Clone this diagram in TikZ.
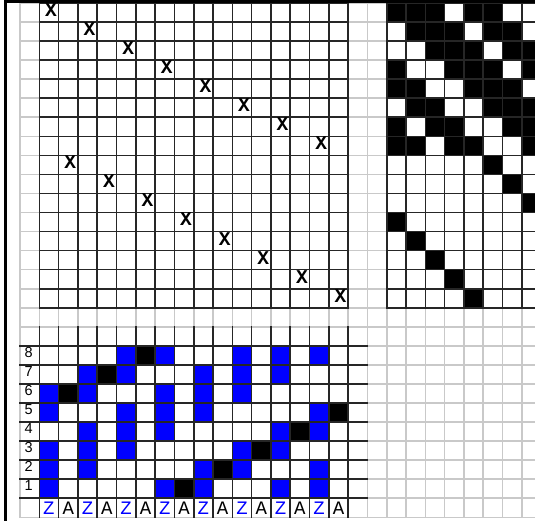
\documentclass[tikz,border=0pt]{standalone}
\usepackage{fontspec}
\newfontfamily\draftmono{Liberation Mono}
\newfontfamily\draftsans{Liberation Sans}
\definecolor{draftblue}{RGB}{0,0,255}
\begin{document}
\begin{tikzpicture}[
  threadmark/.style={inner sep=0pt, font=\draftmono\bfseries\fontsize{19.5}{19.5}\selectfont, xshift=2pt, yshift=2.5pt},
  rowno/.style={inner sep=0pt, anchor=west, font=\draftsans\fontsize{14.5}{14.5}\selectfont, xshift=4.5pt, yshift=2.8pt},
  pickletter/.style={inner sep=0pt, font=\draftmono\fontsize{19}{19}\selectfont},
  pickz/.style={pickletter, text=draftblue}
]
% TikZ weaving draft
\def\cellw{19.3pt}
\def\cellh{19.05pt}
\providecommand{\draftLightLineColor}{black!21}
\providecommand{\draftLineColor}{black!85}
\providecommand{\draftLineWidth}{1.6pt}
\providecommand{\draftFrameWidth}{2.7pt}
\useasboundingbox (0,0) rectangle (535pt,521pt);
\clip (0,0) rectangle (535pt,521pt);
\begin{scope}[shift={(20pt,3.65pt)}, x=\cellw, y=\cellh, line cap=rect]
  % Background grid
  % Vertical lines
  \begin{scope}[draw=\draftLightLineColor, line width=\draftLineWidth]
    \draw (0,0) -- (0,27);
    \draw (1,0) -- (1,27);
    \draw (2,0) -- (2,27);
    \draw (3,0) -- (3,27);
    \draw (4,0) -- (4,27);
    \draw (5,0) -- (5,27);
    \draw (6,0) -- (6,27);
    \draw (7,0) -- (7,27);
    \draw (8,0) -- (8,27);
    \draw (9,0) -- (9,27);
    \draw (10,0) -- (10,27);
    \draw (11,0) -- (11,27);
    \draw (12,0) -- (12,27);
    \draw (13,0) -- (13,27);
    \draw (14,0) -- (14,27);
    \draw (15,0) -- (15,27);
    \draw (16,0) -- (16,27);
    \draw (17,0) -- (17,27);
    \draw (18,0) -- (18,27);
    \draw (19,0) -- (19,27);
    \draw (20,0) -- (20,27);
    \draw (21,0) -- (21,27);
    \draw (22,0) -- (22,27);
    \draw (23,0) -- (23,27);
    \draw (24,0) -- (24,27);
    \draw (25,0) -- (25,27);
    \draw (26,0) -- (26,27);
  \end{scope}
  % Horizontal lines
  \begin{scope}[draw=\draftLightLineColor, line width=\draftLineWidth]
    \draw (0,0) -- (27,0);
    \draw (0,1) -- (27,1);
    \draw (0,2) -- (27,2);
    \draw (0,3) -- (27,3);
    \draw (0,4) -- (27,4);
    \draw (0,5) -- (27,5);
    \draw (0,6) -- (27,6);
    \draw (0,7) -- (27,7);
    \draw (0,8) -- (27,8);
    \draw (0,9) -- (27,9);
    \draw (0,10) -- (27,10);
    \draw (0,11) -- (27,11);
    \draw (0,12) -- (27,12);
    \draw (0,13) -- (27,13);
    \draw (0,14) -- (27,14);
    \draw (0,15) -- (27,15);
    \draw (0,16) -- (27,16);
    \draw (0,17) -- (27,17);
    \draw (0,18) -- (27,18);
    \draw (0,19) -- (27,19);
    \draw (0,20) -- (27,20);
    \draw (0,21) -- (27,21);
    \draw (0,22) -- (27,22);
    \draw (0,23) -- (27,23);
    \draw (0,24) -- (27,24);
    \draw (0,25) -- (27,25);
    \draw (0,26) -- (27,26);
    \draw (0,27) -- (27,27);
  \end{scope}
  % Tie-up and treadling cells
  \begin{scope}[fill=black]
    \fill (19,26) rectangle ++(1,1);
    \fill (20,26) rectangle ++(1,1);
    \fill (21,26) rectangle ++(1,1);
    \fill (23,26) rectangle ++(1,1);
    \fill (24,26) rectangle ++(1,1);
    \fill (20,25) rectangle ++(1,1);
    \fill (21,25) rectangle ++(1,1);
    \fill (22,25) rectangle ++(1,1);
    \fill (24,25) rectangle ++(1,1);
    \fill (25,25) rectangle ++(1,1);
    \fill (21,24) rectangle ++(1,1);
    \fill (22,24) rectangle ++(1,1);
    \fill (23,24) rectangle ++(1,1);
    \fill (25,24) rectangle ++(1,1);
    \fill (26,24) rectangle ++(1,1);
    \fill (19,23) rectangle ++(1,1);
    \fill (22,23) rectangle ++(1,1);
    \fill (23,23) rectangle ++(1,1);
    \fill (24,23) rectangle ++(1,1);
    \fill (26,23) rectangle ++(1,1);
    \fill (19,22) rectangle ++(1,1);
    \fill (20,22) rectangle ++(1,1);
    \fill (23,22) rectangle ++(1,1);
    \fill (24,22) rectangle ++(1,1);
    \fill (25,22) rectangle ++(1,1);
    \fill (20,21) rectangle ++(1,1);
    \fill (21,21) rectangle ++(1,1);
    \fill (24,21) rectangle ++(1,1);
    \fill (25,21) rectangle ++(1,1);
    \fill (26,21) rectangle ++(1,1);
    \fill (19,20) rectangle ++(1,1);
    \fill (21,20) rectangle ++(1,1);
    \fill (22,20) rectangle ++(1,1);
    \fill (25,20) rectangle ++(1,1);
    \fill (26,20) rectangle ++(1,1);
    \fill (19,19) rectangle ++(1,1);
    \fill (20,19) rectangle ++(1,1);
    \fill (22,19) rectangle ++(1,1);
    \fill (23,19) rectangle ++(1,1);
    \fill (26,19) rectangle ++(1,1);
    \fill (24,18) rectangle ++(1,1);
    \fill (25,17) rectangle ++(1,1);
    \fill (26,16) rectangle ++(1,1);
    \fill (19,15) rectangle ++(1,1);
    \fill (20,14) rectangle ++(1,1);
    \fill (21,13) rectangle ++(1,1);
    \fill (22,12) rectangle ++(1,1);
    \fill (23,11) rectangle ++(1,1);
  \end{scope}
  % Pattern cells
  \begin{scope}[fill=draftblue]
    \fill (5,8) rectangle ++(1,1);
    \fill (7,8) rectangle ++(1,1);
    \fill (11,8) rectangle ++(1,1);
    \fill (13,8) rectangle ++(1,1);
    \fill (15,8) rectangle ++(1,1);
    \fill (3,7) rectangle ++(1,1);
    \fill (5,7) rectangle ++(1,1);
    \fill (9,7) rectangle ++(1,1);
    \fill (11,7) rectangle ++(1,1);
    \fill (13,7) rectangle ++(1,1);
    \fill (1,6) rectangle ++(1,1);
    \fill (3,6) rectangle ++(1,1);
    \fill (7,6) rectangle ++(1,1);
    \fill (9,6) rectangle ++(1,1);
    \fill (11,6) rectangle ++(1,1);
    \fill (1,5) rectangle ++(1,1);
    \fill (5,5) rectangle ++(1,1);
    \fill (7,5) rectangle ++(1,1);
    \fill (9,5) rectangle ++(1,1);
    \fill (15,5) rectangle ++(1,1);
    \fill (3,4) rectangle ++(1,1);
    \fill (5,4) rectangle ++(1,1);
    \fill (7,4) rectangle ++(1,1);
    \fill (13,4) rectangle ++(1,1);
    \fill (15,4) rectangle ++(1,1);
    \fill (1,3) rectangle ++(1,1);
    \fill (3,3) rectangle ++(1,1);
    \fill (5,3) rectangle ++(1,1);
    \fill (11,3) rectangle ++(1,1);
    \fill (13,3) rectangle ++(1,1);
    \fill (1,2) rectangle ++(1,1);
    \fill (3,2) rectangle ++(1,1);
    \fill (9,2) rectangle ++(1,1);
    \fill (11,2) rectangle ++(1,1);
    \fill (15,2) rectangle ++(1,1);
    \fill (1,1) rectangle ++(1,1);
    \fill (7,1) rectangle ++(1,1);
    \fill (9,1) rectangle ++(1,1);
    \fill (13,1) rectangle ++(1,1);
    \fill (15,1) rectangle ++(1,1);
  \end{scope}
  \begin{scope}[fill=black]
    \fill (6,8) rectangle ++(1,1);
    \fill (4,7) rectangle ++(1,1);
    \fill (2,6) rectangle ++(1,1);
    \fill (16,5) rectangle ++(1,1);
    \fill (14,4) rectangle ++(1,1);
    \fill (12,3) rectangle ++(1,1);
    \fill (10,2) rectangle ++(1,1);
    \fill (8,1) rectangle ++(1,1);
  \end{scope}
  % Threading grid
  \begin{scope}[draw=\draftLineColor, line width=\draftLineWidth]
    \draw (1,11) -- (1,27);
    \draw (2,11) -- (2,27);
    \draw (3,11) -- (3,27);
    \draw (4,11) -- (4,27);
    \draw (5,11) -- (5,27);
    \draw (6,11) -- (6,27);
    \draw (7,11) -- (7,27);
    \draw (8,11) -- (8,27);
    \draw (9,11) -- (9,27);
    \draw (10,11) -- (10,27);
    \draw (11,11) -- (11,27);
    \draw (12,11) -- (12,27);
    \draw (13,11) -- (13,27);
    \draw (14,11) -- (14,27);
    \draw (15,11) -- (15,27);
    \draw (16,11) -- (16,27);
    \draw (17,11) -- (17,27);
    \draw (1,11) -- (17,11);
    \draw (1,12) -- (17,12);
    \draw (1,13) -- (17,13);
    \draw (1,14) -- (17,14);
    \draw (1,15) -- (17,15);
    \draw (1,16) -- (17,16);
    \draw (1,17) -- (17,17);
    \draw (1,18) -- (17,18);
    \draw (1,19) -- (17,19);
    \draw (1,20) -- (17,20);
    \draw (1,21) -- (17,21);
    \draw (1,22) -- (17,22);
    \draw (1,23) -- (17,23);
    \draw (1,24) -- (17,24);
    \draw (1,25) -- (17,25);
    \draw (1,26) -- (17,26);
    \draw (1,27) -- (17,27);
  \end{scope}
  % Tie-up grid
  \begin{scope}[draw=\draftLineColor, line width=\draftLineWidth]
    \draw (19,11) -- (19,27);
    \draw (20,11) -- (20,27);
    \draw (21,11) -- (21,27);
    \draw (22,11) -- (22,27);
    \draw (23,11) -- (23,27);
    \draw (24,11) -- (24,27);
    \draw (25,11) -- (25,27);
    \draw (26,11) -- (26,27);
    \draw (19,11) -- (27,11);
    \draw (19,12) -- (27,12);
    \draw (19,13) -- (27,13);
    \draw (19,14) -- (27,14);
    \draw (19,15) -- (27,15);
    \draw (19,16) -- (27,16);
    \draw (19,17) -- (27,17);
    \draw (19,18) -- (27,18);
    \draw (19,19) -- (27,19);
    \draw (19,20) -- (27,20);
    \draw (19,21) -- (27,21);
    \draw (19,22) -- (27,22);
    \draw (19,23) -- (27,23);
    \draw (19,24) -- (27,24);
    \draw (19,25) -- (27,25);
    \draw (19,26) -- (27,26);
    \draw (19,27) -- (27,27);
  \end{scope}
  % Pattern grid
  \begin{scope}[draw=\draftLineColor, line width=\draftLineWidth]
    \draw (1,0) -- (1,10);
    \draw (2,0) -- (2,10);
    \draw (3,0) -- (3,10);
    \draw (4,0) -- (4,10);
    \draw (5,0) -- (5,10);
    \draw (6,0) -- (6,10);
    \draw (7,0) -- (7,10);
    \draw (8,0) -- (8,10);
    \draw (9,0) -- (9,10);
    \draw (10,0) -- (10,10);
    \draw (11,0) -- (11,10);
    \draw (12,0) -- (12,10);
    \draw (13,0) -- (13,10);
    \draw (14,0) -- (14,10);
    \draw (15,0) -- (15,10);
    \draw (16,0) -- (16,10);
    \draw (17,0) -- (17,10);
    \draw (0,1) -- (18,1);
    \draw (0,2) -- (18,2);
    \draw (0,3) -- (18,3);
    \draw (0,4) -- (18,4);
    \draw (0,5) -- (18,5);
    \draw (0,6) -- (18,6);
    \draw (0,7) -- (18,7);
    \draw (0,8) -- (18,8);
    \draw (0,9) -- (18,9);
  \end{scope}
  % Threading marks
  \node[threadmark] (x1) at (1.5,26.5) {X};
  \node[threadmark] (x2) at (3.5,25.5) {X};
  \node[threadmark] (x3) at (5.5,24.5) {X};
  \node[threadmark] (x4) at (7.5,23.5) {X};
  \node[threadmark] (x5) at (9.5,22.5) {X};
  \node[threadmark] (x6) at (11.5,21.5) {X};
  \node[threadmark] (x7) at (13.5,20.5) {X};
  \node[threadmark] (x8) at (15.5,19.5) {X};
  \node[threadmark] (x9) at (2.5,18.5) {X};
  \node[threadmark] (x10) at (4.5,17.5) {X};
  \node[threadmark] (x11) at (6.5,16.5) {X};
  \node[threadmark] (x12) at (8.5,15.5) {X};
  \node[threadmark] (x13) at (10.5,14.5) {X};
  \node[threadmark] (x14) at (12.5,13.5) {X};
  \node[threadmark] (x15) at (14.5,12.5) {X};
  \node[threadmark] (x16) at (16.5,11.5) {X};
  % Row numbers
  \node[rowno] (n1) at (0,1.5) {1};
  \node[rowno] (n2) at (0,2.5) {2};
  \node[rowno] (n3) at (0,3.5) {3};
  \node[rowno] (n4) at (0,4.5) {4};
  \node[rowno] (n5) at (0,5.5) {5};
  \node[rowno] (n6) at (0,6.5) {6};
  \node[rowno] (n7) at (0,7.5) {7};
  \node[rowno] (n8) at (0,8.5) {8};
  % Column letters
  \node[pickz] (p1) at (1.5,0.5) {Z};
  \node[pickletter] (p2) at (2.5,0.5) {A};
  \node[pickz] (p3) at (3.5,0.5) {Z};
  \node[pickletter] (p4) at (4.5,0.5) {A};
  \node[pickz] (p5) at (5.5,0.5) {Z};
  \node[pickletter] (p6) at (6.5,0.5) {A};
  \node[pickz] (p7) at (7.5,0.5) {Z};
  \node[pickletter] (p8) at (8.5,0.5) {A};
  \node[pickz] (p9) at (9.5,0.5) {Z};
  \node[pickletter] (p10) at (10.5,0.5) {A};
  \node[pickz] (p11) at (11.5,0.5) {Z};
  \node[pickletter] (p12) at (12.5,0.5) {A};
  \node[pickz] (p13) at (13.5,0.5) {Z};
  \node[pickletter] (p14) at (14.5,0.5) {A};
  \node[pickz] (p15) at (15.5,0.5) {Z};
  \node[pickletter] (p16) at (16.5,0.5) {A};
\end{scope}
% Outer frame
\draw[line width=\draftFrameWidth] (5.35pt,0pt) -- (5.35pt,521pt);
\draw[line width=\draftFrameWidth] (4pt,519.65pt) -- (535pt,519.65pt);
\end{tikzpicture}
\end{document}
